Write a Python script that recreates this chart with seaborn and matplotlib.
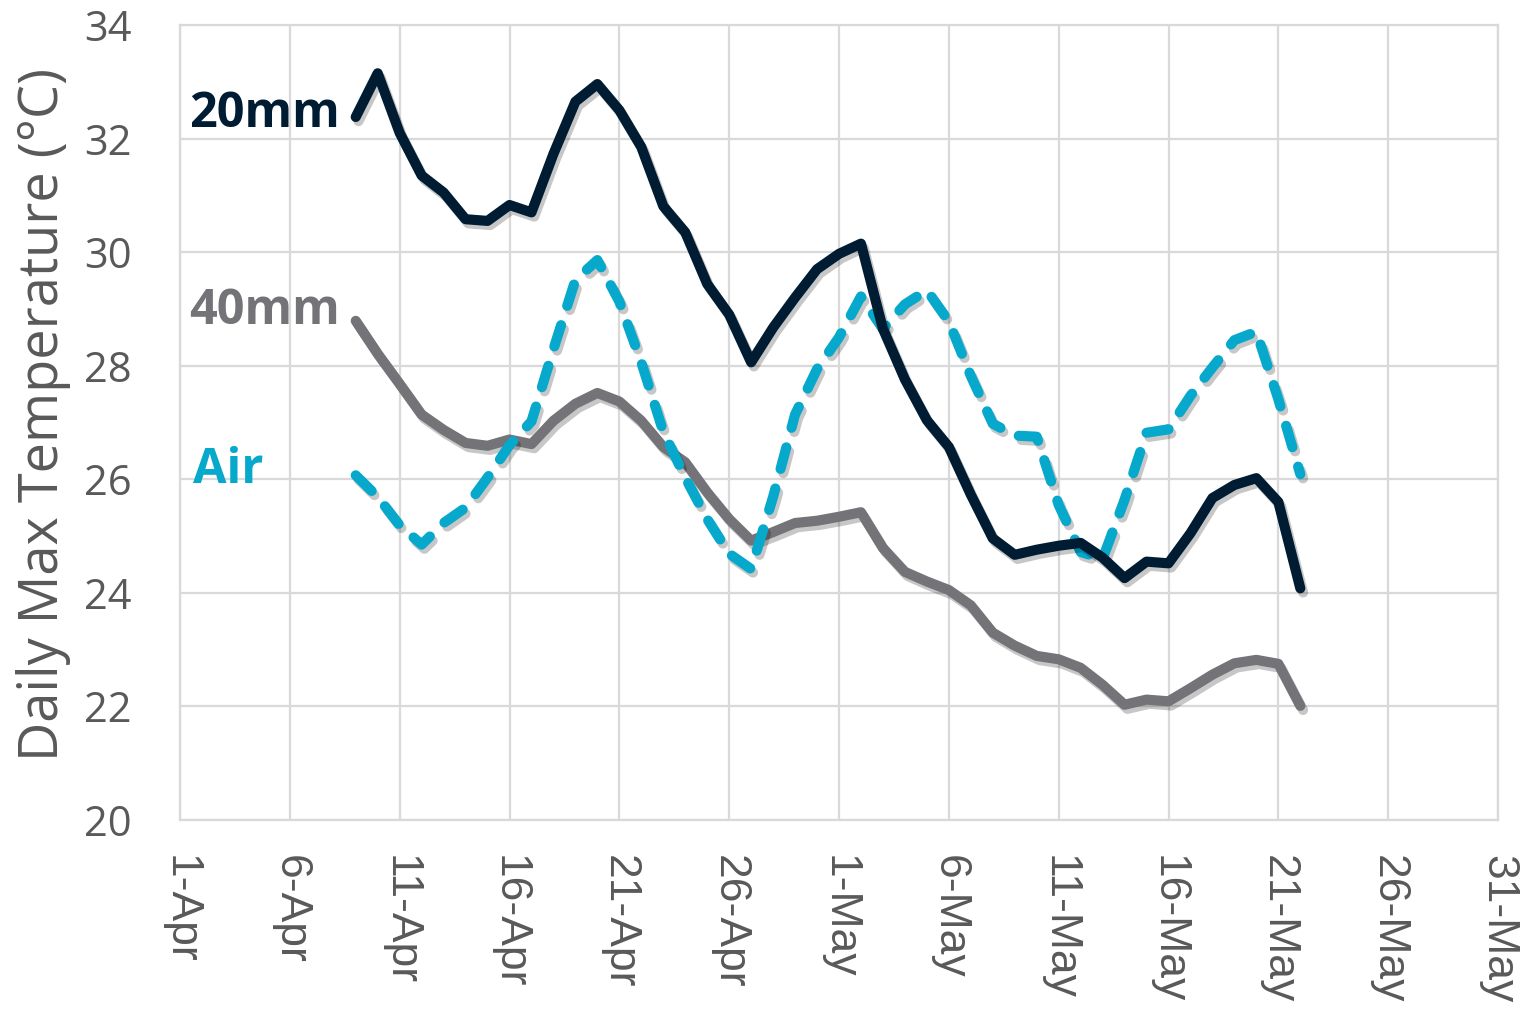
import pandas as pd
import matplotlib.pyplot as plt
import matplotlib.patheffects as pe
import seaborn as sns

# daily max temperatures, 9-Apr to 22-May
dates = pd.date_range("2019-04-09", "2019-05-22", freq="D")

temp_20mm = [32.38, 33.15, 32.10, 31.35, 31.05, 30.58, 30.55, 30.83, 30.70, 31.73,
             32.65, 32.96, 32.50, 31.85, 30.81, 30.35, 29.44, 28.90, 28.06, 28.67,
             29.20, 29.70, 29.97, 30.15, 28.65, 27.76, 27.04, 26.57, 25.73, 24.96,
             24.67, 24.76, 24.83, 24.88, 24.62, 24.26, 24.55, 24.52, 25.05, 25.67,
             25.90, 26.02, 25.60, 24.08]
temp_40mm = [28.79, 28.21, 27.68, 27.14, 26.87, 26.64, 26.59, 26.70, 26.62, 27.03,
             27.33, 27.52, 27.37, 27.03, 26.57, 26.30, 25.77, 25.30, 24.92, 25.07,
             25.23, 25.27, 25.34, 25.42, 24.79, 24.37, 24.20, 24.05, 23.78, 23.30,
             23.07, 22.89, 22.83, 22.68, 22.38, 22.03, 22.12, 22.09, 22.32, 22.56,
             22.76, 22.82, 22.75, 22.01]
temp_air = [26.07, 25.69, 25.19, 24.85, 25.23, 25.50, 26.03, 26.60, 27.02, 28.29,
            29.51, 29.86, 29.13, 28.06, 26.84, 26.03, 25.30, 24.69, 24.42, 25.69,
            27.14, 27.94, 28.50, 29.22, 28.65, 29.08, 29.33, 28.78, 27.82, 26.98,
            26.77, 26.75, 25.55, 24.72, 24.60, 25.64, 26.82, 26.88, 27.47, 27.97,
            28.45, 28.60, 27.41, 26.09]

tick_dates = pd.date_range("2019-04-01", "2019-05-31", freq="5D")
tick_labels = [f"{d.day}-{d:%b}" for d in tick_dates]

c20 = "#001C33"
c40 = "#737378"
cair = "#06A8CC"
grid_c = "#D9D9D9"
text_c = "#595959"

sns.set_style("white")
plt.rcParams["font.family"] = ["Open Sans", "DejaVu Sans"]

fig = plt.figure(figsize=(15.21, 10.11), dpi=100)
ax = fig.add_axes([180 / 1521, 1 - 820 / 1011, 1318 / 1521, 795 / 1011])

shadow = [pe.SimpleLineShadow(offset=(2, -3), shadow_color="black", alpha=0.22),
          pe.Normal()]

sns.lineplot(x=dates, y=temp_40mm, ax=ax, color=c40, linewidth=7.3,
             solid_capstyle="round", solid_joinstyle="round", path_effects=shadow)
sns.lineplot(x=dates, y=temp_air, ax=ax, color=cair, linewidth=7.3,
             dash_capstyle="round", dash_joinstyle="round", path_effects=shadow)
ax.lines[-1].set_dashes((2.2, 2.0))
sns.lineplot(x=dates, y=temp_20mm, ax=ax, color=c20, linewidth=7.3,
             solid_capstyle="round", solid_joinstyle="round", path_effects=shadow)

ax.set_xlim(tick_dates[0], tick_dates[-1])
ax.set_ylim(20, 34)
ax.set_xticks(tick_dates)
ax.set_xticklabels(tick_labels, rotation=270, family="Liberation Sans",
                   fontsize=32, color=text_c, va="top", ha="center")
ax.set_yticks(range(20, 35, 2))
ax.tick_params(axis="x", length=0, pad=25)
ax.tick_params(axis="y", length=0, pad=35, labelsize=30, labelcolor=text_c)

ax.grid(True, color=grid_c, linewidth=1.6)
for s in ax.spines.values():
    s.set_color(grid_c)
    s.set_linewidth(1.6)

ax.set_xlabel("")
ax.set_ylabel("Daily Max Temperature (°C)", fontsize=39, color=text_c)
ax.yaxis.set_label_coords(-0.083, 0.51)

ax.text(0.1215, 0.887, "20mm", transform=ax.transAxes, ha="right", va="center",
        fontsize=35, fontweight="bold", color=c20)
ax.text(0.1215, 0.639, "40mm", transform=ax.transAxes, ha="right", va="center",
        fontsize=35, fontweight="bold", color=c40)
ax.text(0.0635, 0.44, "Air", transform=ax.transAxes, ha="right", va="center",
        fontsize=35, fontweight="bold", color=cair)

fig.savefig("out.png", dpi=100)
